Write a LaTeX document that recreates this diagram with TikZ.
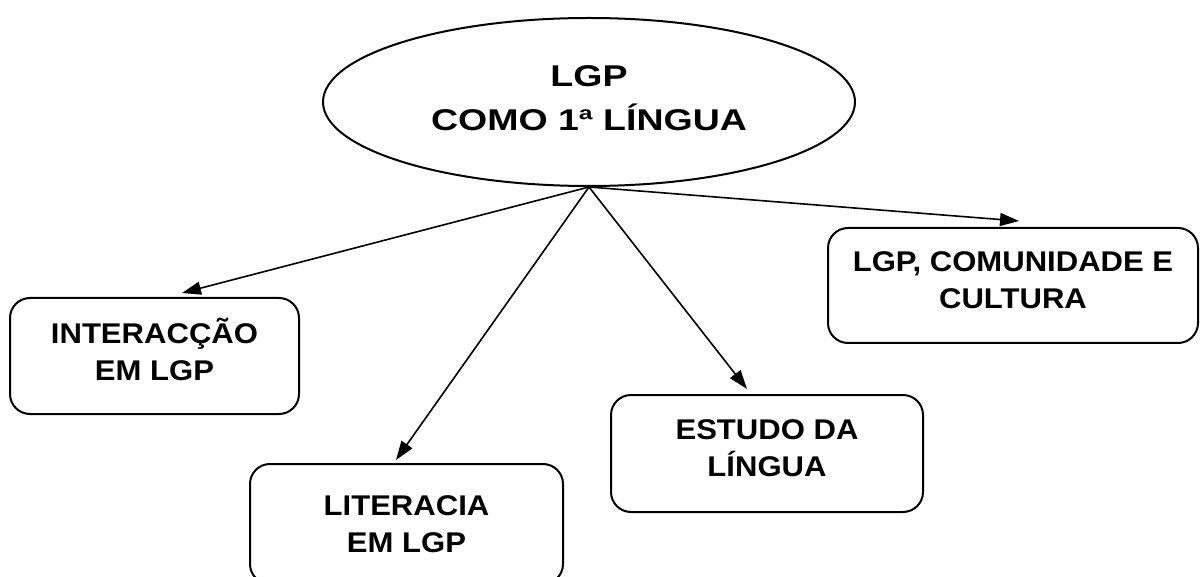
\documentclass[tikz,border=0pt]{standalone}
\usepackage{fontspec}
\setmainfont{Liberation Sans}
\newfontfamily\boxfont{Liberation Sans}[FakeStretch=1.09]
\newfontfamily\ellfont{Liberation Sans}[FakeStretch=1.25]
\usetikzlibrary{arrows.meta,shapes.geometric}
\tikzset{
  topicbox/.style={draw, line width=2pt, rounded corners=20pt, align=center,
    font=\boxfont\bfseries\fontsize{28.5}{37}\selectfont, inner sep=0pt},
  mainell/.style={draw, ellipse, line width=2pt, align=center, inner sep=0pt,
    font=\ellfont\bfseries\fontsize{30}{44}\selectfont},
  link/.style={line width=1.6pt, -{Triangle[length=19pt,width=13pt]}}
}
\begin{document}
\begin{tikzpicture}[x=1pt,y=-1pt]
\clip (0,0) rectangle (1200,577);
\fill[white] (0,0) rectangle (1200,577);
\node[mainell, minimum width=532pt, minimum height=168pt, text depth=8pt] (ell) at (589,102) {LGP\\COMO 1ª LÍNGUA};
\node[topicbox, minimum width=289pt, minimum height=116pt, text depth=14pt] (b1) at (154.5,356) {INTERACÇÃO\\EM LGP};
\node[topicbox, minimum width=313pt, minimum height=120pt] (b2) at (406.5,524) {LITERACIA\\EM LGP};
\node[topicbox, minimum width=312pt, minimum height=117pt, text depth=10pt] (b3) at (767,453.5) {ESTUDO DA\\LÍNGUA};
\node[topicbox, minimum width=370pt, minimum height=115pt, text depth=10pt] (b4) at (1013,285.5) {LGP, COMUNIDADE E\\CULTURA};
\coordinate (o) at (ell.south);
\coordinate (t1) at (182,293);
\coordinate (t2) at (396,460);
\coordinate (t3) at (747,389);
\coordinate (t4) at (1019,221);
\draw[link] (o) -- (t1);
\draw[link] (o) -- (t2);
\draw[link] (o) -- (t3);
\draw[link] (o) -- (t4);
\end{tikzpicture}
\end{document}
